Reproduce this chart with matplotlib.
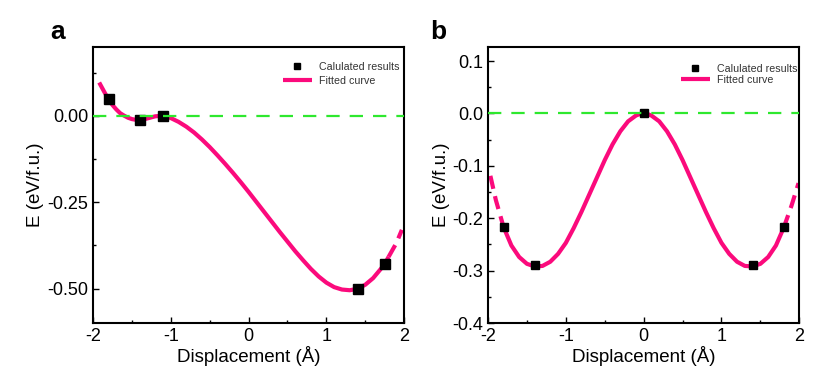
import matplotlib
matplotlib.use('Agg')
import matplotlib.pyplot as plt
import numpy as np
from matplotlib.ticker import MultipleLocator

plt.rcParams['font.family'] = ['Liberation Sans', 'DejaVu Sans']
plt.rcParams['axes.unicode_minus'] = False

# panel a: calculated points and fitted curve
a_pts_x = [-1.8, -1.4, -1.1, 1.4, 1.75]
a_pts_y = [0.048, -0.012, 0.0, -0.5, -0.43]
a_curve_x = [-1.92, -1.85, -1.8, -1.75, -1.7, -1.65, -1.6, -1.55, -1.5, -1.45, -1.4,
             -1.35, -1.3, -1.25, -1.2, -1.15, -1.1, -1.05, -1.0, -0.9, -0.8, -0.7,
             -0.6, -0.5, -0.4, -0.3, -0.2, -0.1, 0.0, 0.1, 0.2, 0.3, 0.4, 0.5, 0.6,
             0.7, 0.8, 0.9, 1.0, 1.1, 1.2, 1.3, 1.4, 1.5, 1.6, 1.7, 1.75, 1.8, 1.9, 1.97]
a_curve_y = [0.097, 0.068, 0.048, 0.032, 0.019, 0.008, 0.001, -0.005, -0.009, -0.011, -0.012,
             -0.010, -0.007, -0.004, -0.001, 0.0, 0.0, -0.002, -0.006, -0.017, -0.031, -0.048,
             -0.068, -0.090, -0.114, -0.139, -0.165, -0.192, -0.220, -0.249, -0.278, -0.307, -0.336, -0.364, -0.392,
             -0.418, -0.443, -0.465, -0.483, -0.496, -0.503, -0.505, -0.501, -0.489, -0.470, -0.443, -0.428, -0.408, -0.368, -0.330]

# panel b
b_pts_x = [-1.8, -1.4, 0.0, 1.4, 1.8]
b_pts_y = [-0.217, -0.29, 0.0, -0.29, -0.217]
b_curve_x = [-1.97, -1.9, -1.8, -1.7, -1.6, -1.5, -1.4, -1.3, -1.2, -1.1, -1.0, -0.9, -0.8,
             -0.7, -0.6, -0.5, -0.4, -0.3, -0.2, -0.1, -0.05, 0.0, 0.05, 0.1, 0.2, 0.3, 0.4,
             0.5, 0.6, 0.7, 0.8, 0.9, 1.0, 1.1, 1.2, 1.3, 1.4, 1.5, 1.6, 1.7, 1.8, 1.9, 1.99]
b_curve_y = [-0.119, -0.165, -0.217, -0.252, -0.274, -0.287, -0.292, -0.291, -0.283, -0.268, -0.247, -0.219, -0.188,
             -0.155, -0.122, -0.089, -0.059, -0.034, -0.015, -0.004, -0.001, 0.0, -0.001, -0.004, -0.015, -0.034, -0.059,
             -0.089, -0.122, -0.155, -0.188, -0.219, -0.247, -0.268, -0.283, -0.291, -0.292, -0.287, -0.274, -0.252, -0.218, -0.176, -0.133]

PINK = '#fb0a7c'
GREEN = '#2ee82e'


def draw_panel(ax, cx, cy, px, py, solid_lo, solid_hi, legend_anchor, spacing, msize):
    cx = np.array(cx)
    cy = np.array(cy)
    solid = (cx >= solid_lo) & (cx <= solid_hi)
    ax.plot(cx[solid], cy[solid], color=PINK, lw=3.0, solid_capstyle='butt',
            label='Fitted curve', zorder=2)
    left = cx <= solid_lo
    right = cx >= solid_hi
    for m in (left, right):
        if m.sum() > 1:
            ax.plot(cx[m], cy[m], color=PINK, lw=3.0, dashes=(3.2, 1.8),
                    dash_capstyle='butt', zorder=2)
    ax.plot(px, py, 's', color='black', ms=msize, ls='none',
            label='Calulated results', zorder=3)
    ax.axhline(0, color=GREEN, lw=1.6, dashes=(6, 4.5), zorder=4)

    ax.set_xlim(-2, 2)
    ax.xaxis.set_major_locator(MultipleLocator(1))
    ax.xaxis.set_minor_locator(MultipleLocator(0.5))
    ax.tick_params(which='both', direction='in', top=False, right=False,
                   width=1.0, labelsize=13, colors='black')
    ax.tick_params(which='major', length=4)
    ax.tick_params(which='minor', length=2.5)
    for s in ax.spines.values():
        s.set_linewidth(1.5)
    ax.set_xlabel('Displacement (Å)', fontsize=13.5, labelpad=1)
    ax.set_ylabel('E (eV/f.u.)', fontsize=13.5, labelpad=2)

    h, l = ax.get_legend_handles_labels()
    leg = ax.legend(h[::-1], l[::-1], loc='upper right', bbox_to_anchor=legend_anchor,
                    frameon=False, fontsize=7.7, borderpad=0, borderaxespad=0,
                    handlelength=2.7, handletextpad=0.7, labelspacing=spacing,
                    markerscale=0.75)
    for t in leg.get_texts():
        t.set_color('#333333')


fig = plt.figure(figsize=(8.3, 3.85), dpi=100)
ax1 = fig.add_axes([0.112, 0.161, 0.375, 0.717])
ax2 = fig.add_axes([0.588, 0.161, 0.375, 0.717])

draw_panel(ax1, a_curve_x, a_curve_y, a_pts_x, a_pts_y, -1.95, 1.8, (0.985, 0.945), 0.35, 6.5)
ax1.set_ylim(-0.6, 0.2)
ax1.set_yticks([0.0, -0.25, -0.5])
ax1.set_yticklabels(['0.00', '-0.25', '-0.50'])
ax1.yaxis.set_minor_locator(MultipleLocator(0.125))

draw_panel(ax2, b_curve_x, b_curve_y, b_pts_x, b_pts_y, -1.8, 1.8, (0.995, 0.94), 0.15, 5.5)
ax2.set_ylim(-0.4, 0.127)
ax2.set_yticks([0.1, 0.0, -0.1, -0.2, -0.3, -0.4])
ax2.set_yticklabels(['0.1', '0.0', '-0.1', '-0.2', '-0.3', '-0.4'])
ax2.yaxis.set_minor_locator(MultipleLocator(0.05))

fig.text(58 / 830, 1 - 32 / 385, 'a', fontsize=19, fontweight='bold', ha='center', va='center')
fig.text(438 / 830, 1 - 32 / 385, 'b', fontsize=19, fontweight='bold', ha='center', va='center')

fig.savefig('out.png', dpi=100)
